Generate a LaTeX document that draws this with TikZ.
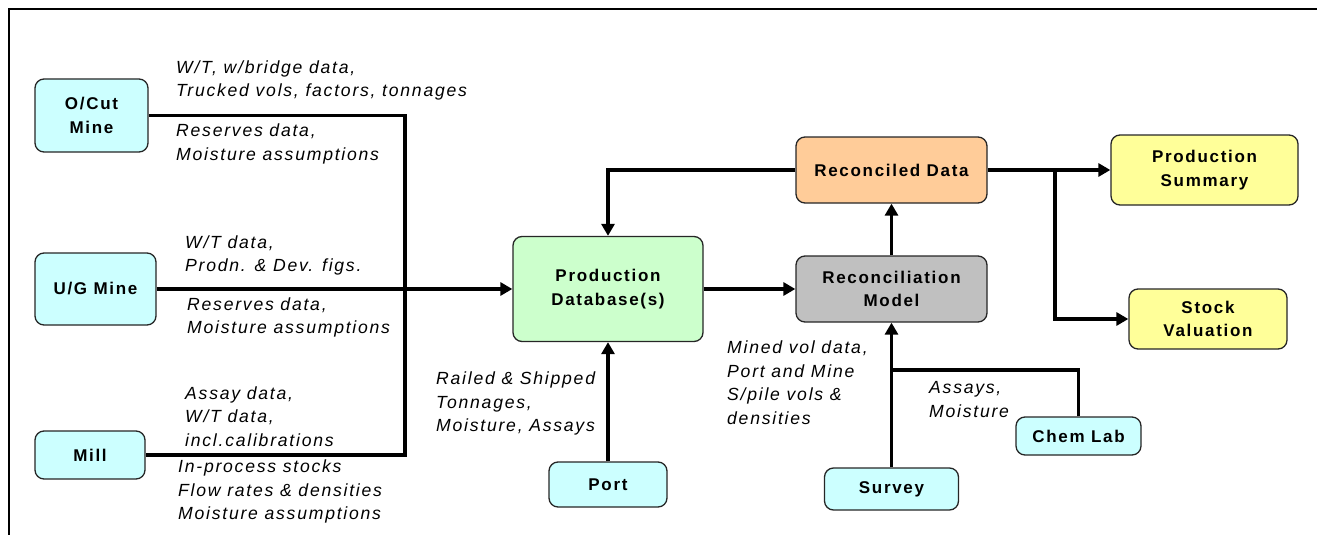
\documentclass[tikz,border=0pt]{standalone}
\usepackage{fontspec}
\setmainfont{Liberation Sans}[LetterSpace=10]
\usetikzlibrary{arrows.meta}
\definecolor{cyanb}{HTML}{CCFFFF}
\definecolor{greenb}{HTML}{CCFFCC}
\definecolor{orangeb}{HTML}{FFCC99}
\definecolor{grayb}{HTML}{C0C0C0}
\definecolor{yellowb}{HTML}{FFFF99}
\tikzset{
  box/.style={rounded corners=9pt, draw=black!85, line width=1.3pt, align=center,
    inner sep=0pt, font=\fontsize{17}{23.5}\selectfont\bfseries},
  lab/.style={anchor=west, align=left, inner sep=0pt,
    font=\fontsize{17.6}{23.5}\selectfont\itshape},
  wire/.style={line width=3.2pt, draw=black},
  arr/.style={wire, -{Triangle[length=12pt,width=13pt]}},
}
\begin{document}
\begin{tikzpicture}[x=1pt,y=-1pt]
\useasboundingbox (0,0) rectangle (1317,535);
\draw[line width=2.5pt] (9,535) -- (9,9) -- (1317,9);
% boxes
\node[box, fill=cyanb, minimum width=113pt, minimum height=73pt] (ocut) at (91.5,115.5) {O/Cut\\Mine};
\node[box, fill=cyanb, minimum width=121pt, minimum height=72pt] (ug) at (95.5,289) {U/G Mine};
\node[box, fill=cyanb, minimum width=110pt, minimum height=48pt] (mill) at (90,455) {Mill};
\node[box, fill=greenb, minimum width=190pt, minimum height=105pt] (pdb) at (608,289) {Production\\Database(s)};
\node[box, fill=orangeb, minimum width=191pt, minimum height=66pt] (rd) at (891.5,170) {Reconciled Data};
\node[box, fill=grayb, minimum width=191pt, minimum height=66pt] (rm) at (891.5,289) {Reconciliation\\Model};
\node[box, fill=yellowb, minimum width=187pt, minimum height=70pt] (ps) at (1204.5,170) {Production\\Summary};
\node[box, fill=yellowb, minimum width=158pt, minimum height=60pt] (sv) at (1208,319) {Stock\\Valuation};
\node[box, fill=cyanb, minimum width=118pt, minimum height=45pt] (port) at (608,484.5) {Port};
\node[box, fill=cyanb, minimum width=134pt, minimum height=42pt] (survey) at (891.5,489) {Survey};
\node[box, fill=cyanb, minimum width=125pt, minimum height=38pt] (chem) at (1078.5,436) {Chem Lab};
% junctions
\coordinate (bt) at (405,115.5);
\coordinate (bb) at (405,455);
\coordinate (cj) at (891.5,370);
\coordinate (br) at (1055,170);
% connectors
\draw[wire] (ocut.east) -- (bt) -- (bb) -- (mill.east);
\draw[arr] (ug.east) -- (pdb.west);
\draw[arr] (rd.west) -| (pdb.north);
\draw[arr] (pdb.east) -- (rm.west);
\draw[arr] (port.north) -- (pdb.south);
\draw[arr] (rm.north) -- (rd.south);
\draw[arr] (survey.north) -- (rm.south);
\draw[wire] (chem.north) |- (cj);
\draw[arr] (rd.east) -- (ps.west);
\draw[arr] (br) |- (sv.west);
% labels
\node[lab] (l1) at (176,80.5) {W/T, w/bridge data,\\Trucked vols, factors, tonnages};
\node[lab] (l2) at (176,144) {Reserves data,\\Moisture assumptions};
\node[lab] (l3) at (185,255.5) {W/T data,\\Prodn. \& Dev. figs.};
\node[lab] (l4) at (187,317.5) {Reserves data,\\Moisture assumptions};
\node[lab] (l5) at (185,416.5) {Assay data,\\W/T data,\\incl.calibrations};
\node[lab] (l6) at (178,491.5) {In-process stocks\\Flow rates \& densities\\Moisture assumptions};
\node[lab] (l7) at (436,403.5) {Railed \& Shipped\\Tonnages,\\Moisture, Assays};
\node[lab] (l8) at (727,382.5) {Mined vol data,\\Port and Mine\\S/pile vols \&\\densities};
\node[lab] (l9) at (929,399.5) {Assays,\\Moisture};
\end{tikzpicture}
\end{document}
